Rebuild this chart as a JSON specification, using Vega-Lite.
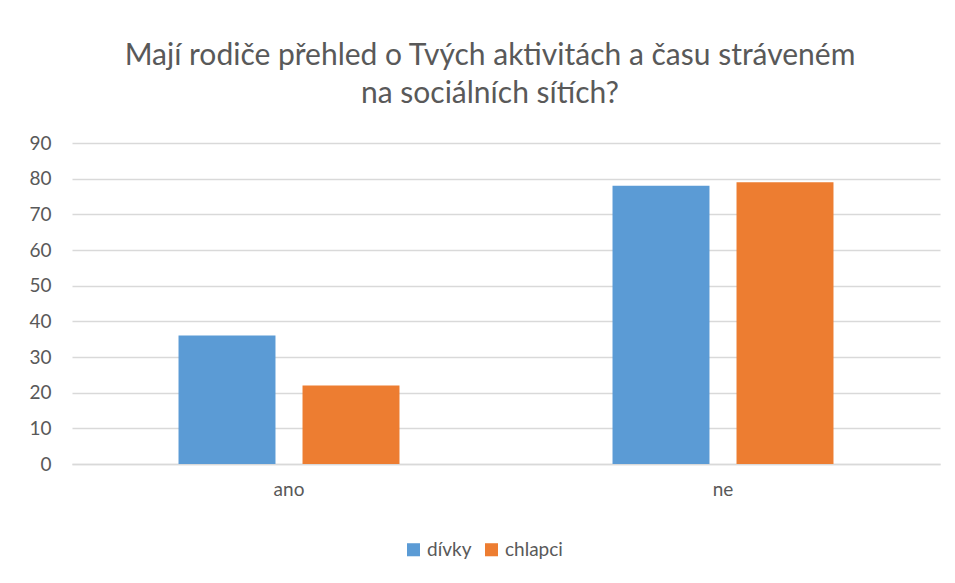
{
  "$schema": "https://vega.github.io/schema/vega-lite/v6.json",
  "width": 868,
  "height": 321,
  "autosize": {"type": "none"},
  "padding": {"left": 72, "top": 143, "right": 15, "bottom": 119},
  "background": "white",
  "title": {
    "text": ["Mají rodiče přehled o Tvých aktivitách a času stráveném", "na sociálních sítích?"],
    "font": "Lato",
    "fontSize": 30,
    "fontWeight": "normal",
    "color": "#595959",
    "lineHeight": 38,
    "offset": 25,
    "dx": -16
  },
  "data": {
    "values": [
      {"odpoved": "ano", "pohlavi": "dívky", "pocet": 36},
      {"odpoved": "ano", "pohlavi": "chlapci", "pocet": 22},
      {"odpoved": "ne", "pohlavi": "dívky", "pocet": 78},
      {"odpoved": "ne", "pohlavi": "chlapci", "pocet": 79}
    ]
  },
  "mark": {"type": "bar"},
  "encoding": {
    "x": {
      "field": "odpoved",
      "type": "nominal",
      "scale": {"paddingInner": 0, "paddingOuter": 0},
      "axis": {
        "title": null,
        "labelAngle": 0,
        "labelFont": "Lato",
        "labelFontSize": 19,
        "labelColor": "#595959",
        "labelPadding": 16,
        "ticks": false,
        "domainColor": "#d9d9d9",
        "domainWidth": 1.5
      }
    },
    "xOffset": {
      "field": "pohlavi",
      "type": "nominal",
      "sort": ["dívky", "chlapci"],
      "scale": {"paddingInner": 0.218, "paddingOuter": 0.859}
    },
    "y": {
      "field": "pocet",
      "type": "quantitative",
      "scale": {"domain": [0, 90], "nice": false},
      "axis": {
        "title": null,
        "values": [0, 10, 20, 30, 40, 50, 60, 70, 80, 90],
        "labelFont": "Lato",
        "labelFontSize": 19,
        "labelColor": "#595959",
        "labelPadding": 21,
        "ticks": false,
        "domain": false,
        "gridColor": "#d9d9d9",
        "gridWidth": 1.5
      }
    },
    "color": {
      "field": "pohlavi",
      "type": "nominal",
      "scale": {"domain": ["dívky", "chlapci"], "range": ["#5B9BD5", "#ED7D31"]},
      "legend": {
        "title": null,
        "orient": "none",
        "direction": "horizontal",
        "legendX": 332,
        "legendY": 397,
        "symbolType": "square",
        "symbolSize": 170,
        "symbolOpacity": 1,
        "labelFont": "Lato",
        "labelFontSize": 19,
        "labelColor": "#595959",
        "columnPadding": 10,
        "labelOffset": 4
      }
    }
  },
  "config": {"view": {"stroke": null}}
}
